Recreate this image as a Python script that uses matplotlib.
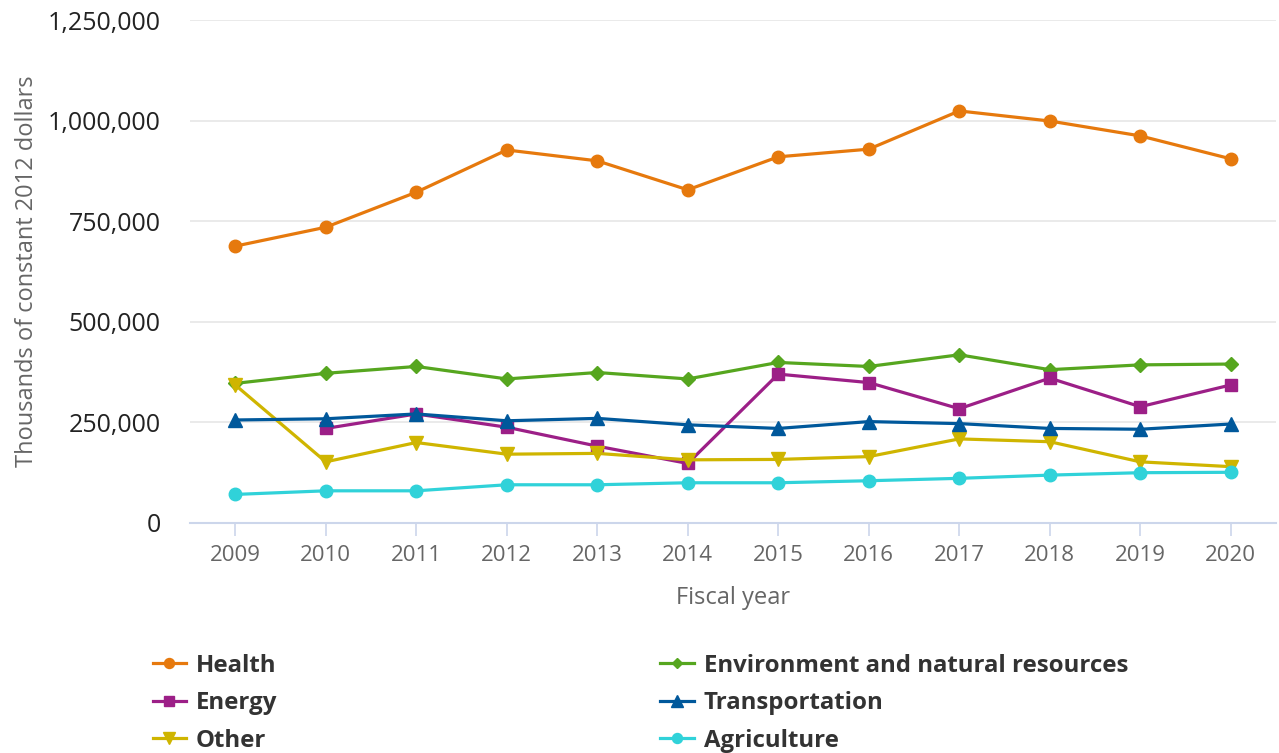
import matplotlib.pyplot as plt
from matplotlib.ticker import FuncFormatter

plt.rcParams['font.family'] = ['Open Sans', 'DejaVu Sans']

years = [2009, 2010, 2011, 2012, 2013, 2014, 2015, 2016, 2017, 2018, 2019, 2020]

health = [688000, 735000, 822000, 927000, 900000, 828000, 910000, 929000, 1024000, 999000, 962000, 905000]
environment = [347000, 372000, 389000, 358000, 374000, 358000, 399000, 389000, 418000, 381000, 393000, 395000]
energy = [None, 235000, 271000, 238000, 191000, 148000, 370000, 349000, 284000, 360000, 289000, 343000]
transportation = [256000, 259000, 271000, 254000, 260000, 244000, 235000, 252000, 247000, 235000, 233000, 246000]
other = [343000, 152000, 200000, 171000, 173000, 157000, 158000, 165000, 209000, 202000, 152000, 140000]
agriculture = [71000, 80000, 80000, 95000, 95000, 100000, 100000, 105000, 111000, 119000, 125000, 126000]

fig = plt.figure(figsize=(12.79, 7.53), dpi=100)
ax = fig.add_axes([190 / 1279, 1 - 523 / 753, (1276 - 190) / 1279, (523 - 20) / 753])

def nan(v):
    return [float('nan') if x is None else x for x in v]

series = [
    ('Health', health, '#e6790d', 'o', 9),
    ('Energy', energy, '#9c1f87', 's', 9),
    ('Other', other, '#cfb500', 'v', 10),
    ('Environment and natural resources', environment, '#56a61f', 'D', 7),
    ('Transportation', transportation, '#00589b', '^', 10),
    ('Agriculture', agriculture, '#30d2d9', 'o', 9),
]

draw_order = ['Health', 'Environment and natural resources', 'Energy', 'Other', 'Transportation', 'Agriculture']
handles = {}
for name, vals, col, mk, ms in series:
    z = 3 + draw_order.index(name) * 0.1
    ln, = ax.plot(years, nan(vals), color=col, marker=mk, markersize=ms, linewidth=2.3, zorder=z, label=name)
    handles[name] = ln

ax.set_xlim(2008.5, 2020.5)
ax.set_ylim(0, 1250000)
ax.set_xticks(years)
ax.set_yticks([0, 250000, 500000, 750000, 1000000, 1250000])
ax.yaxis.set_major_formatter(FuncFormatter(lambda v, p: f'{int(v):,}'))
ax.grid(axis='y', color='#e6e6e6', linewidth=1.2)
ax.set_axisbelow(True)
for s in ['top', 'right', 'left']:
    ax.spines[s].set_visible(False)
ax.spines['bottom'].set_color('#ccd6eb')
ax.spines['bottom'].set_linewidth(1.5)
ax.tick_params(axis='x', colors='#ccd6eb', length=9, width=1.2, labelsize=16, labelcolor='#666666', pad=7)
ax.tick_params(axis='y', length=0, labelsize=18, labelcolor='#222222', pad=21)

ax.set_xlabel('Fiscal year', fontsize=17, color='#666666', labelpad=14)
ax.set_ylabel('Thousands of constant 2012 dollars', fontsize=17, color='#666666', labelpad=6)

hl = [handles[n] for n, *_ in series]
fig.legend(hl, [h.get_label() for h in hl], loc='upper left', bbox_to_anchor=(131 / 1279, 1 - 632 / 753),
           ncol=2, frameon=False, prop={'weight': 'bold', 'size': 17.3},
           labelcolor='#333333', handlelength=1.4, handletextpad=0.4,
           columnspacing=15.95, labelspacing=0.56, markerscale=0.8)

fig.savefig('out.png', dpi=100)
